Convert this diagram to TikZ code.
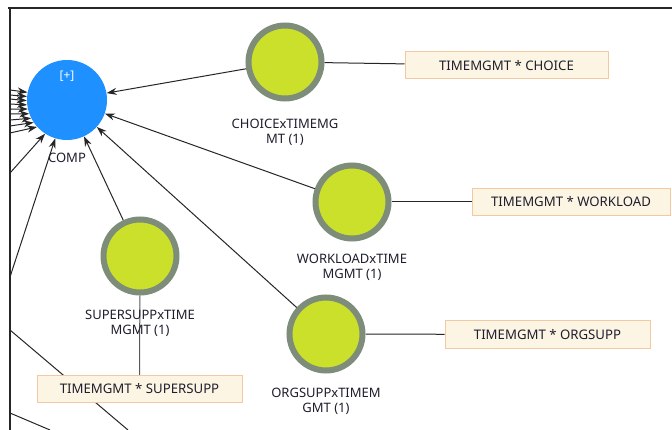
\documentclass[tikz,border=0pt]{standalone}
\usepackage{fontspec}
\setmainfont{Noto Sans}
\usetikzlibrary{arrows.meta,backgrounds}
\definecolor{compblue}{HTML}{1E90FF}
\definecolor{lvfill}{HTML}{CBE02A}
\definecolor{lvedge}{HTML}{7E8C7A}
\definecolor{boxfill}{HTML}{FDF5E3}
\definecolor{boxedge}{HTML}{F2C9A0}
\definecolor{txt}{HTML}{1E1E2E}
\definecolor{edgec}{HTML}{262626}
\begin{document}
\begin{tikzpicture}[x=1pt,y=-1pt,
  lv/.style={circle,fill=lvfill,draw=lvedge,line width=6pt,minimum size=73pt,inner sep=0pt},
  ind/.style={rectangle,fill=boxfill,draw=boxedge,line width=1pt,minimum height=27pt,text=txt,font=\fontsize{13.2}{15}\selectfont,inner sep=0pt},
  lab/.style={align=center,text=txt,font=\fontsize{13}{15}\selectfont,inner sep=0pt},
  con/.style={draw=edgec,line width=1pt},
  arr/.style={con,-{Stealth[length=10pt,width=7pt]}}]
\useasboundingbox (0,0) rectangle (672,430);
\begin{scope}[on background layer]
  \fill[white] (0,0) rectangle (672,430);
\end{scope}

% frame
\draw[edgec,line width=1.3pt] (8,8) -- (672,8);
\draw[edgec,line width=1.3pt] (10,8) -- (10,430);

% COMP
\node[circle,fill=compblue,minimum size=80pt,inner sep=0pt] (comp) at (67,100) {};
\node[text=white,font=\fontsize{12}{14}\selectfont,inner sep=0pt] (plus) at (67,76) {[+]};
\node[lab] (complab) at (67,158) {COMP};

% latent variables
\node[lv] (choice) at (285,62) {};
\node[lv] (work) at (352,202) {};
\node[lv] (org) at (326,334) {};
\node[lv] (sup) at (140,256) {};

\node[lab] (choicelab) at (285,132) {CHOICExTIMEMG\\MT (1)};
\node[lab] (worklab) at (352,267) {WORKLOADxTIME\\MGMT (1)};
\node[lab] (orglab) at (326,401) {ORGSUPPxTIMEM\\GMT (1)};

% indicator boxes
\node[ind,minimum width=203pt] (b1) at (506.5,65.5) {TIMEMGMT * CHOICE};
\node[ind,minimum width=198pt] (b2) at (571,202) {TIMEMGMT * WORKLOAD};
\node[ind,minimum width=205pt] (b3) at (547.5,334.5) {TIMEMGMT * ORGSUPP};
\node[ind,minimum width=205pt] (b4) at (139.5,389) {TIMEMGMT * SUPERSUPP};

\node[lab] (suplab) at (140,323) {SUPERSUPPxTIME\\MGMT (1)};

% free ends at the frame
\coordinate (L1) at (10,90);
\coordinate (L2) at (10,95);
\coordinate (L3) at (10,99);
\coordinate (L4) at (10,104);
\coordinate (L5) at (10,109);
\coordinate (L6) at (10,114);
\coordinate (L7) at (10,120);
\coordinate (L8) at (10,126);
\coordinate (L9) at (10,133);
\coordinate (L10) at (10,173);
\coordinate (L11) at (10,277);
\coordinate (C1) at (10,330);
\coordinate (C2) at (128,430);
\coordinate (D1) at (10,413);
\coordinate (D2) at (50,430);

\begin{scope}[on background layer]
  \draw[con] (C1) -- (C2);
  \draw[con] (D1) -- (D2);
  \draw[con] (choice) -- (b1);
  \draw[con] (work) -- (b2);
  \draw[con] (org) -- (b3);
  \draw[con,draw=gray!70!black] (sup) -- (b4);
\end{scope}

\draw[arr] (choice) -- (comp);
\draw[arr] (work) -- (comp);
\draw[arr] (org) -- (comp);
\draw[arr] (sup) -- (comp);
\draw[arr] (L1) -- (comp.169);
\draw[arr] (L2) -- (comp.175);
\draw[arr] (L3) -- (comp.181);
\draw[arr] (L4) -- (comp.187);
\draw[arr] (L5) -- (comp.193);
\draw[arr] (L6) -- (comp.200);
\draw[arr] (L7) -- (comp.207);
\draw[arr] (L8) -- (comp.214);
\draw[arr] (L9) -- (comp.222);
\draw[arr] (L10) -- (comp.237);
\draw[arr] (L11) -- (comp.253);
\end{tikzpicture}
\end{document}
